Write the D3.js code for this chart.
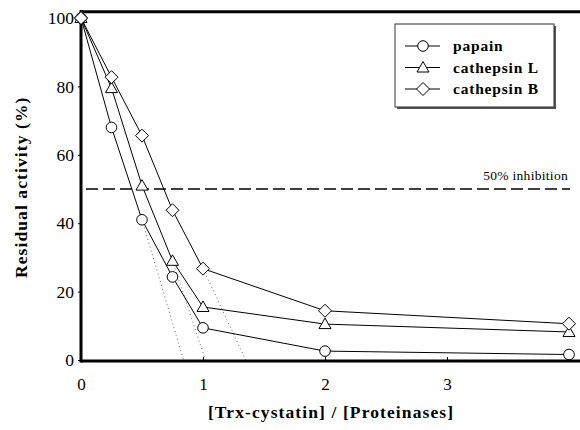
<!DOCTYPE html>
<html>
<head>
<meta charset="utf-8">
<script src="https://cdn.jsdelivr.net/npm/d3@7"></script>
<style>
  body { margin: 0; background: #fff; }
</style>
</head>
<body>
<svg></svg>
<script>
// ratio values
var ratios = [0, 0.25, 0.5, 0.75, 1, 2, 4];
var papain = [100, 68, 41, 24.3, 9.4, 2.6, 1.6];
var cathepsinL = [100, 79.5, 51, 29, 15.5, 10.5, 8.2];
var cathepsinB = [100, 82.7, 65.6, 43.8, 26.7, 14.4, 10.6];
var seriesNames = ["papain", "cathepsin L", "cathepsin B"];
var seriesSymbols = ["circle", "triangle", "diamond"];
// dotted extrapolations: start ratio, start value, x intercept
var fitStart = [0.5, 0.75, 1];
var fitStartVal = [41, 29, 26.7];
var fitIntercept = [0.84, 1.02, 1.35];
var xTicks = [0, 1, 2, 3];
var yTicks = [0, 20, 40, 60, 80, 100];
var halfLine = 50;

var FONT = "Liberation Serif";

var W = 580, H = 430;
var svg = d3.select("svg").attr("width", W).attr("height", H)
    .attr("font-family", FONT);

var x = d3.scaleLinear().domain([0, 4]).range([81, 569]);
var y = d3.scaleLinear().domain([0, 100]).range([360, 18]);

var allSeries = [papain, cathepsinL, cathepsinB];

// 50% line
svg.append("line")
    .attr("x1", x(0) + 5).attr("x2", x(4) + 1)
    .attr("y1", y(halfLine)).attr("y2", y(halfLine))
    .attr("stroke", "#000").attr("stroke-width", 1.3)
    .attr("stroke-dasharray", "12,5");
svg.append("text")
    .attr("x", x(4) - 1).attr("y", y(halfLine) - 9)
    .attr("text-anchor", "end")
    .attr("font-family", FONT)
    .attr("font-size", 13.5)
    .attr("letter-spacing", 0.3)
    .text("50% inhibition");

// dotted extrapolation lines
fitStart.forEach(function(s, i){
    svg.append("line")
        .attr("x1", x(s)).attr("y1", y(fitStartVal[i]))
        .attr("x2", x(fitIntercept[i])).attr("y2", y(0))
        .attr("stroke", "#666").attr("stroke-width", 1)
        .attr("stroke-dasharray", "1,3");
});

var line = d3.line()
    .x(function(d){ return x(d[0]); })
    .y(function(d){ return y(d[1]); });

function drawMarker(g, type, cx, cy){
    if (type == "circle") {
        g.append("circle").attr("cx", cx).attr("cy", cy).attr("r", 5.3)
            .attr("fill", "#fff").attr("stroke", "#000").attr("stroke-width", 1);
    } else if (type == "triangle") {
        var s = 6;
        g.append("path")
            .attr("d", "M" + cx + "," + (cy - s) + "L" + (cx + s) + "," + (cy + s * 0.75) + "L" + (cx - s) + "," + (cy + s * 0.75) + "Z")
            .attr("fill", "#fff").attr("stroke", "#000").attr("stroke-width", 1);
    } else {
        var r = 6.5;
        g.append("path")
            .attr("d", "M" + cx + "," + (cy - r) + "L" + (cx + r) + "," + cy + "L" + cx + "," + (cy + r) + "L" + (cx - r) + "," + cy + "Z")
            .attr("fill", "#fff").attr("stroke", "#000").attr("stroke-width", 1);
    }
}

allSeries.forEach(function(vals, i){
    var pts = ratios.map(function(r, j){ return [r, vals[j]]; });
    svg.append("path").datum(pts)
        .attr("d", line)
        .attr("fill", "none").attr("stroke", "#000").attr("stroke-width", 1);
});
allSeries.forEach(function(vals, i){
    var g = svg.append("g");
    ratios.forEach(function(r, j){
        drawMarker(g, seriesSymbols[i], x(r), y(vals[j]));
    });
});

// axes
var xAxis = svg.append("g")
    .attr("transform", "translate(0," + (y(0) + 1) + ")")
    .call(d3.axisBottom(x).tickValues(xTicks).tickSize(-4).tickPadding(17).tickFormat(d3.format("d")));
xAxis.attr("font-family", FONT);
xAxis.select(".domain").remove();
xAxis.selectAll("text").attr("font-size", 17).attr("font-family", FONT);
xAxis.selectAll("line").attr("stroke-width", 1);

var yAxis = svg.append("g")
    .attr("transform", "translate(" + x(0) + ",0)")
    .call(d3.axisLeft(y).tickValues(yTicks).tickSize(3).tickPadding(4));
yAxis.attr("font-family", FONT);
yAxis.select(".domain").remove();
yAxis.selectAll("text").attr("font-size", 17.5).attr("font-family", FONT);

// frame lines
svg.append("line").attr("x1", x(0)).attr("x2", W).attr("y1", y(0) + 1).attr("y2", y(0) + 1)
    .attr("stroke", "#000").attr("stroke-width", 3);
svg.append("line").attr("x1", x(0) - 1).attr("x2", W).attr("y1", y(101.8)).attr("y2", y(101.8))
    .attr("stroke", "#000").attr("stroke-width", 3);
svg.append("line").attr("x1", x(0)).attr("x2", x(0)).attr("y1", y(101.8) - 1.5).attr("y2", y(0) + 2.5)
    .attr("stroke", "#000").attr("stroke-width", 3);

// diamond at origin sits on top of the axis
drawMarker(svg, seriesSymbols[2], x(ratios[0]), y(cathepsinB[0]));

// axis titles
svg.append("text")
    .attr("transform", "translate(27," + y(50.5) + ") rotate(-90)")
    .attr("text-anchor", "middle")
    .attr("font-family", FONT)
    .attr("font-size", 17.5).attr("font-weight", "bold")
    .attr("letter-spacing", 1.1)
    .text("Residual activity (%)");
svg.append("text")
    .attr("x", 331).attr("y", 418)
    .attr("text-anchor", "middle")
    .attr("font-family", FONT)
    .attr("font-size", 17.5).attr("font-weight", "bold")
    .attr("letter-spacing", 1.1)
    .text("[Trx-cystatin] / [Proteinases]");

// legend
var lg = svg.append("g");
lg.append("rect").attr("x", 397).attr("y", 26).attr("width", 159).attr("height", 83)
    .attr("fill", "#555");
lg.append("rect").attr("x", 395).attr("y", 24).attr("width", 159).attr("height", 83)
    .attr("fill", "#fff").attr("stroke", "#333").attr("stroke-width", 1);
seriesNames.forEach(function(name, i){
    var ly = 46 + i * 21.5;
    lg.append("line").attr("x1", 405).attr("x2", 440).attr("y1", ly).attr("y2", ly)
        .attr("stroke", "#000").attr("stroke-width", 1);
    drawMarker(lg, seriesSymbols[i], 423, ly);
    lg.append("text").attr("x", 453).attr("y", ly + 5)
        .attr("font-family", FONT)
        .attr("font-size", 15.5).attr("font-weight", "bold")
        .attr("letter-spacing", 0.8)
        .text(name);
});
</script>
</body>
</html>
